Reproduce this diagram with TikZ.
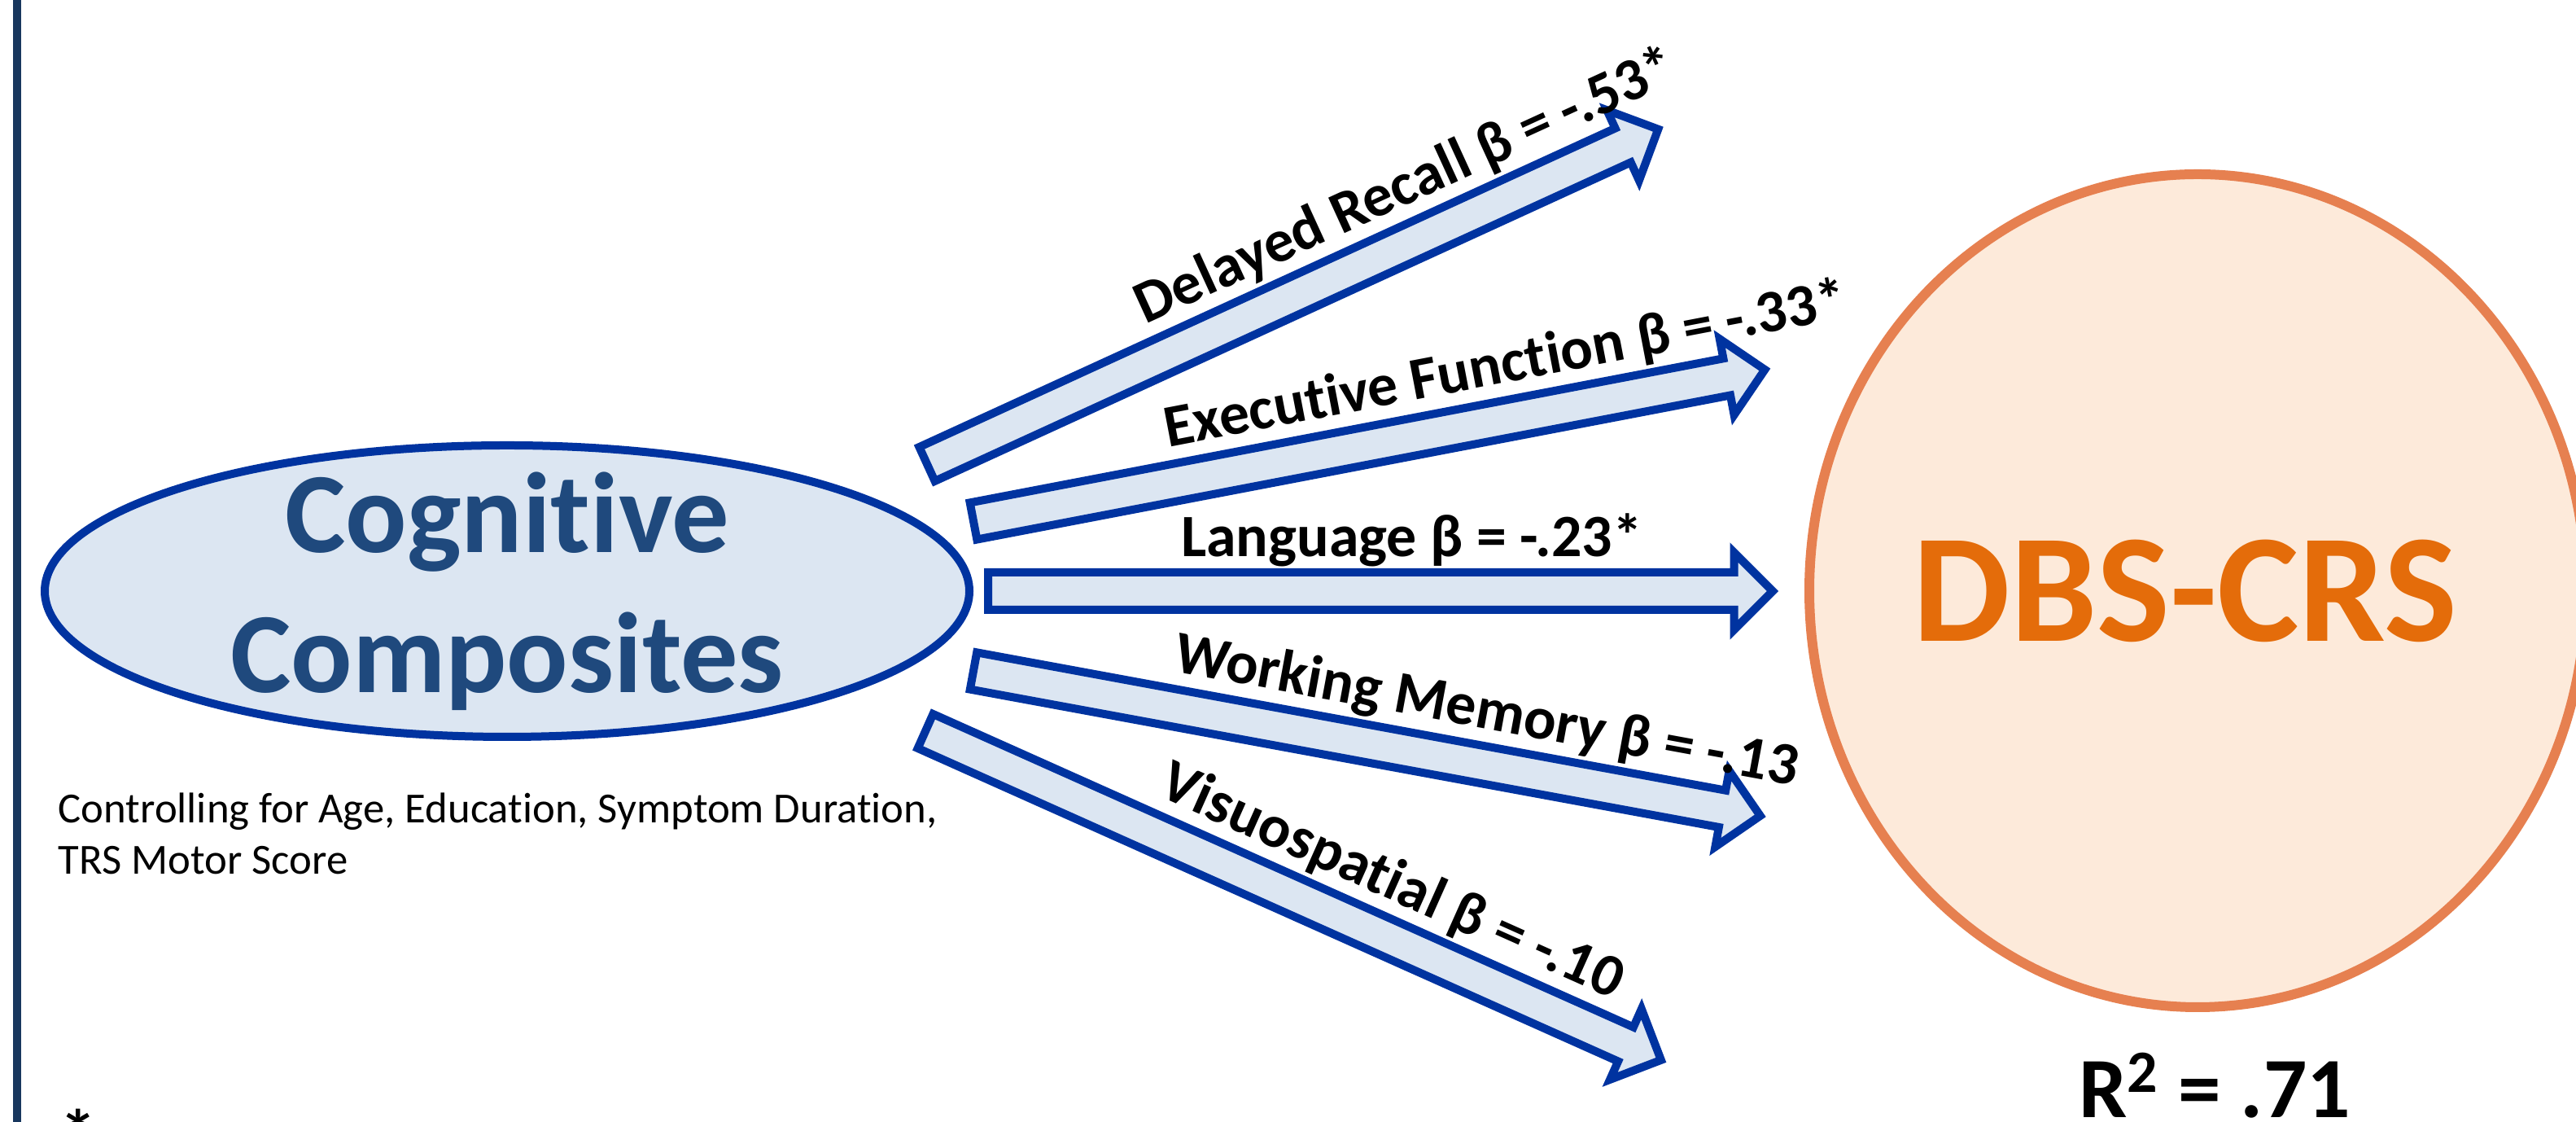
\documentclass[tikz,border=0pt]{standalone}
\usepackage{fontspec}
\setmainfont{Carlito}[Ligatures=NoCommon]
\usepackage{xcolor}
\usetikzlibrary{shapes.geometric,shapes.arrows,calc}

\definecolor{arrowblue}{RGB}{0,51,160}
\definecolor{paleblue}{RGB}{220,230,242}
\definecolor{navytext}{RGB}{31,73,125}
\definecolor{sidebar}{RGB}{24,55,94}
\definecolor{crsedge}{RGB}{230,128,80}
\definecolor{crsfill}{RGB}{253,234,218}
\definecolor{crstext}{RGB}{228,108,10}

\begin{document}
\begin{tikzpicture}[
        blockarrow/.style={single arrow, draw=arrowblue, fill=paleblue, line width=1mm, single arrow tip angle=90, single arrow head extend=2.45mm, inner xsep=0pt, inner ysep=1.8mm, outer sep=0pt, anchor=tail},
        coef/.style={font=\fontsize{21}{25}\selectfont\bfseries, anchor=base, inner sep=0pt},
        cogshape/.style={ellipse, draw=arrowblue, fill=paleblue, line width=1mm, minimum width=11.36cm, minimum height=3.58cm, inner sep=0pt},
        crsshape/.style={ellipse, draw=crsedge, fill=crsfill, line width=1.2mm, minimum width=9.54cm, minimum height=10.23cm, inner sep=0pt}
    ]
    \useasboundingbox (0,0) rectangle (31.65,13.78);
    \draw[sidebar, line width=1.05mm] (0.21,0) -- (0.21,13.78);

    % predictor and outcome
    \node[cogshape] (cogn) at (6.23,6.52) {};
    \node[align=center, text=navytext, font=\fontsize{40}{49}\selectfont\bfseries] (cogtxt) at (cogn.center) {Cognitive\\Composites};
    \node[crsshape] (dbs) at (27.00,6.525) {};
    \node[text=crstext, font=\fontsize{54}{60}\selectfont\bfseries, xshift=-0.15cm] (dbstxt) at (dbs.center) {DBS-CRS};

    % composite paths
    \node[blockarrow, minimum height=9.88cm, rotate=24.6] (aDR) at (11.39,8.08) {};
    \node[blockarrow, minimum height=9.90cm, rotate=10.83] (aEF) at (11.96,7.38) {};
    \node[blockarrow, minimum height=9.64cm] (aLA) at (12.14,6.52) {};
    \node[blockarrow, minimum height=9.83cm, rotate=-10.43] (aWM) at (11.96,5.54) {};
    \node[blockarrow, minimum height=9.90cm, rotate=-24.08] (aVS) at (11.37,4.80) {};

    \node[coef, rotate=24.6] (lDR) at ($(aDR.tail)!0.685!(aDR.tip)!0.44cm!90:(aDR.tip)$) {Delayed Recall β = -.53*};
    \node[coef, rotate=10.83] (lEF) at ($(aEF.tail)!0.685!(aEF.tip)!0.44cm!90:(aEF.tip)$) {Executive Function β = -.33*};
    \node[coef] (lLA) at ($(aLA.tail)!0.54!(aLA.tip)!0.42cm!90:(aLA.tip)$) {Language β = -.23*};
    \node[coef, rotate=-10.43] (lWM) at ($(aWM.tail)!0.64!(aWM.tip)!0.44cm!90:(aWM.tip)$) {Working Memory β = -.13};
    \node[coef, rotate=-24.08] (lVS) at ($(aVS.tail)!0.605!(aVS.tip)!0.44cm!90:(aVS.tip)$) {Visuospatial β = -.10};

    \node[font=\fontsize{15}{18}\selectfont, align=left, anchor=north west, inner sep=0pt] (ctrl) at (0.71,4.05) {Controlling for Age, Education, Symptom Duration,\\TRS Motor Score};
    \node[font=\fontsize{30}{36}\selectfont\bfseries, anchor=base, inner sep=0pt] (rsq) at (27.21,0.05) {R\textsuperscript{2} = .71};
    \node[font=\fontsize{26}{30}\selectfont\bfseries, anchor=base west, inner sep=0pt] (star) at (0.73,-0.50) {*};
\end{tikzpicture}
\end{document}
